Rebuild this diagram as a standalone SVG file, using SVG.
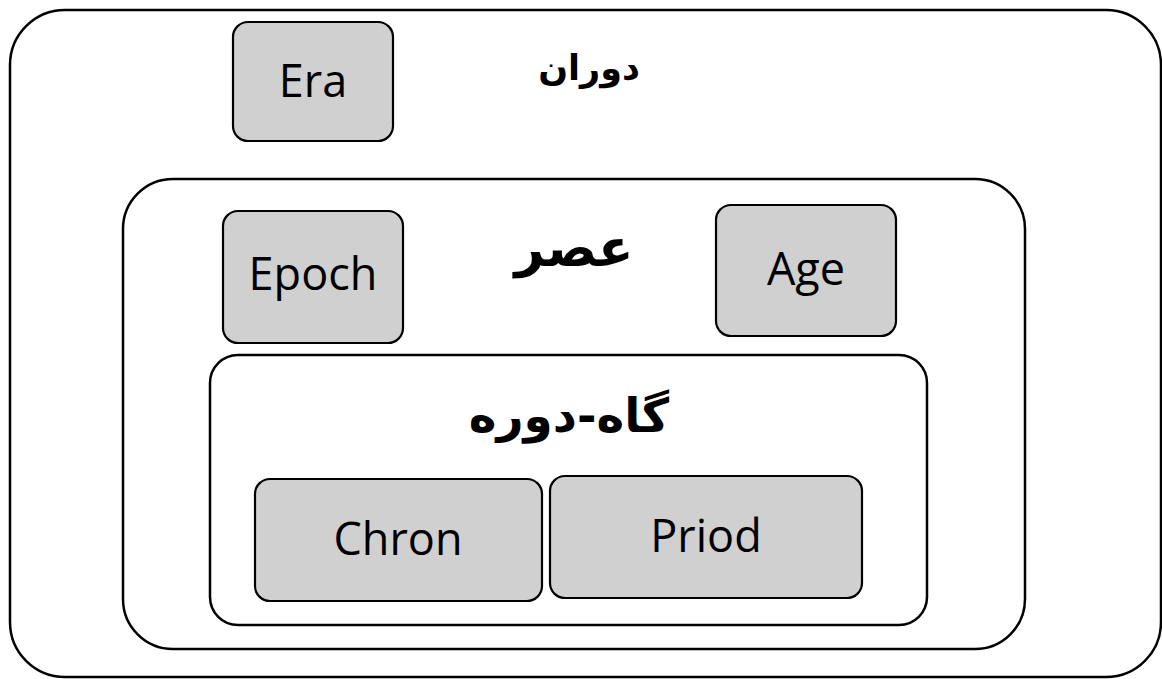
<svg xmlns="http://www.w3.org/2000/svg" width="1162" height="679" viewBox="0 0 1162 679">
<style>
.frame{fill:#fff;stroke:#000;stroke-width:2.5}
.box{fill:#d0d0d0;stroke:#000;stroke-width:2.2}
.en{font-family:"Open Sans","DejaVu Sans",sans-serif;font-size:45px;fill:#000;text-anchor:middle}
.fa{font-family:"DejaVu Sans",sans-serif;font-weight:bold;fill:#000;text-anchor:middle;direction:rtl}
</style>
<rect width="1162" height="679" fill="#fff"/>
<g id="era-frame">
<rect class="frame" x="10" y="10" width="1151" height="667" rx="55" ry="55"/>
<text class="fa" x="589" y="80" font-size="35">دوران</text>
</g>
<g id="era">
<rect class="box" x="233" y="22" width="160" height="119" rx="15"/>
<text class="en" x="313" y="97">Era</text>
</g>
<g id="asr-frame">
<rect class="frame" x="123" y="179" width="902" height="470" rx="50" ry="50"/>
<text class="fa" x="574" y="266" font-size="52">عصر</text>
</g>
<g id="epoch">
<rect class="box" x="223" y="211" width="180" height="132" rx="15"/>
<text class="en" x="313" y="290">Epoch</text>
</g>
<g id="age">
<rect class="box" x="716" y="205" width="180" height="131" rx="15"/>
<text class="en" x="806" y="285">Age</text>
</g>
<g id="gahdore-frame">
<rect class="frame" x="210" y="355" width="717" height="270" rx="28" ry="28"/>
<text class="fa" x="569" y="432" font-size="47">گاه-دوره</text>
</g>
<g id="chron">
<rect class="box" x="255" y="479" width="287" height="122" rx="15"/>
<text class="en" x="398" y="555">Chron</text>
</g>
<g id="priod">
<rect class="box" x="550" y="476" width="312" height="122" rx="15"/>
<text class="en" x="706" y="552">Priod</text>
</g>
<g id="connectors"></g>
</svg>
